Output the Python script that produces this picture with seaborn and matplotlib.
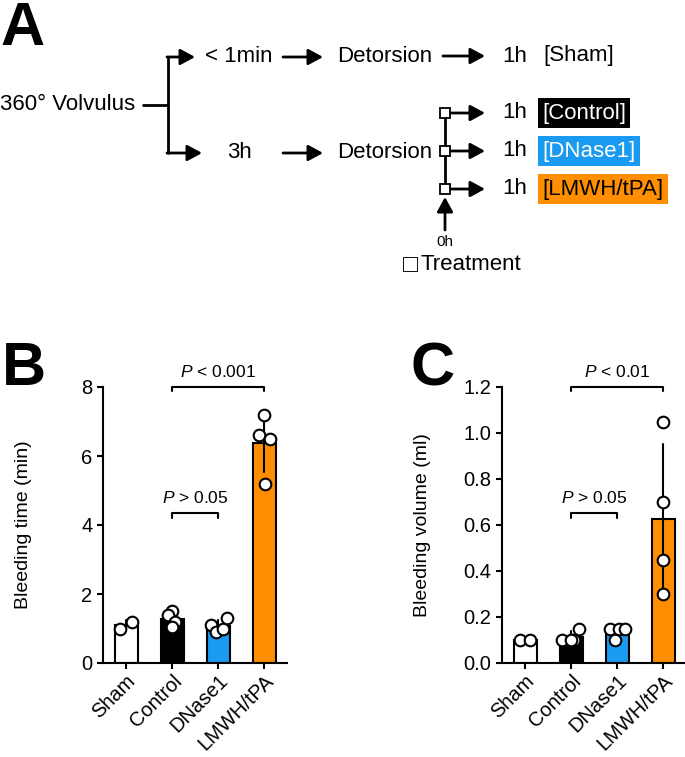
import matplotlib
matplotlib.use("Agg")
import matplotlib.pyplot as plt
import numpy as np
import pandas as pd
import seaborn as sns

groups = ["Sham", "Control", "DNase1", "LMWH/tPA"]
bar_colors = ["white", "black", "#1B9AF2", "#FF8F00"]

time_sham = [1.0, 1.2]
time_control = [1.5, 1.4, 1.2, 1.05]
time_dnase = [1.1, 0.9, 1.0, 1.3]
time_lmwh = [7.2, 6.6, 6.5, 5.2]

vol_sham = [0.1, 0.1]
vol_control = [0.1, 0.1, 0.1, 0.15]
vol_dnase = [0.15, 0.1, 0.15, 0.15]
vol_lmwh = [1.05, 0.7, 0.45, 0.3]

time_ticks = [0, 2, 4, 6, 8]
vol_ticks = [0.0, 0.2, 0.4, 0.6, 0.8, 1.0, 1.2]

# horizontal scatter of the dots within each group (category units)
time_offsets = [[-0.12, 0.12], [0.0, -0.09, 0.07, 0.0],
                [-0.15, -0.04, 0.11, 0.2], [0.0, -0.11, 0.13, 0.02]]
vol_offsets = [[-0.11, 0.11], [-0.2, 0.07, 0.0, 0.17],
               [-0.15, -0.04, 0.05, 0.17], [0.0, 0.0, 0.0, 0.0]]

# (left group, right group, bracket height, label)
time_brackets = [(1, 3, 8.0, "< 0.001"), (1, 2, 4.34, "> 0.05")]
vol_brackets = [(1, 3, 1.2, "< 0.01"), (1, 2, 0.651, "> 0.05")]

sns.set_style("ticks", {"axes.edgecolor": "black", "text.color": "black",
                        "axes.labelcolor": "black", "xtick.color": "black",
                        "ytick.color": "black"})
plt.rcParams["font.family"] = ["Liberation Sans", "DejaVu Sans"]
plt.rcParams["mathtext.fontset"] = "custom"
plt.rcParams["mathtext.it"] = "Liberation Sans:italic"
plt.rcParams["mathtext.rm"] = "Liberation Sans"

W, H = 685, 757
fig = plt.figure(figsize=(W / 100, H / 100), dpi=100)


def long_table(values, offsets):
    rows = []
    for i, (g, vals, offs) in enumerate(zip(groups, values, offsets)):
        rows += [{"group": g, "value": v, "pos": i + o} for v, o in zip(vals, offs)]
    return pd.DataFrame(rows)


def bar_panel(rect, values, offsets, ticks, ylabel, brackets):
    ax = fig.add_axes(rect)
    df = long_table(values, offsets)
    sns.barplot(
        data=df, x="group", y="value", hue="group", order=groups, hue_order=groups,
        palette=bar_colors, saturation=1, legend=False, errorbar="sd", width=0.5,
        edgecolor="black", linewidth=1.5, capsize=0,
        err_kws={"color": "black", "linewidth": 1.5}, ax=ax,
    )
    ax.scatter(df["pos"], df["value"], s=70, facecolor="white", edgecolor="black",
               linewidth=1.5, zorder=3, clip_on=False)
    ax.set_xlim(-0.5, 3.5)
    ax.set_ylim(ticks[0], ticks[-1])
    ax.set_yticks(ticks)
    if isinstance(ticks[1], float):
        ax.set_yticklabels([f"{t:.1f}" for t in ticks])
    ax.set_xlabel("")
    ax.set_ylabel(ylabel, fontsize=14)
    ax.yaxis.set_label_coords(-0.385, 0.5)
    ax.tick_params(axis="both", width=1.5, length=4, color="black")
    ax.tick_params(axis="y", labelsize=14.5)
    ax.tick_params(axis="x", pad=2)
    ax.set_xticks(range(len(groups)))
    ax.set_xticklabels(groups, rotation=45, ha="right", rotation_mode="anchor",
                       fontsize=14.5)
    for s in ["left", "bottom"]:
        ax.spines[s].set_linewidth(1.5)
    sns.despine(ax=ax)

    span = ticks[-1] - ticks[0]
    for x0, x1, y, lab in brackets:
        d = 0.016 * span
        ax.plot([x0, x0, x1, x1], [y - d, y, y, y - d], color="black", lw=1.5, clip_on=False)
        ax.text((x0 + x1) / 2, y + 0.025 * span, r"$\mathit{P}$ " + lab,
                ha="center", va="bottom", fontsize=12.5, clip_on=False)
    return ax


axB = bar_panel([103 / W, 94 / H, 184 / W, 276 / H],
                [time_sham, time_control, time_dnase, time_lmwh], time_offsets,
                time_ticks, "Bleeding time (min)", time_brackets)
axC = bar_panel([502 / W, 94 / H, 184 / W, 276 / H],
                [vol_sham, vol_control, vol_dnase, vol_lmwh], vol_offsets,
                vol_ticks, "Bleeding volume (ml)", vol_brackets)

# panel A flow diagram, pixel coordinates
ov = fig.add_axes([0, 0, 1, 1], zorder=-1)
ov.set_xlim(0, W)
ov.set_ylim(H, 0)
ov.axis("off")

letter_kw = dict(fontsize=44, fontweight="bold", va="baseline",
                 family=["Liberation Sans Narrow", "Liberation Sans"])
ov.text(0, 45, "A", **letter_kw)
ov.text(2, 385, "B", **letter_kw)
ov.text(411, 385, "C", **letter_kw)


def arrow(x0, y0, x1, y1):
    ov.annotate("", xy=(x1, y1), xytext=(x0, y0),
                arrowprops=dict(arrowstyle="-|>,head_length=0.55,head_width=0.3",
                                lw=2, color="black", mutation_scale=16,
                                shrinkA=0, shrinkB=0))


def line(xs, ys):
    ov.plot(xs, ys, color="black", lw=2, solid_capstyle="butt")


fs = 16
ov.text(0, 105, "360° Volvulus", fontsize=fs, va="center")
line([142, 169], [105, 105])
line([168, 168], [56, 154])
arrow(167, 57, 195, 57)
arrow(167, 153, 202, 153)
ov.text(205, 57, "< 1min", fontsize=fs, va="center")
ov.text(227, 153, "3h", fontsize=fs, va="center")
arrow(283, 57, 323, 57)
arrow(283, 153, 323, 153)
ov.text(337, 56, "Detorsion", fontsize=fs, va="center")
ov.text(337, 153, "Detorsion", fontsize=fs, va="center")
arrow(443, 56, 485, 56)
ov.text(502, 56, "1h", fontsize=fs, va="center")
ov.text(543, 55, "[Sham]", fontsize=fs, va="center")

branch_y = [113, 151, 189]
branch_labels = ["[Control]", "[DNase1]", "[LMWH/tPA]"]
branch_text = ["white", "white", "black"]
line([445, 445], [branch_y[0], branch_y[-1]])
for y, lab, col, tc in zip(branch_y, branch_labels, bar_colors[1:], branch_text):
    arrow(449, y, 485, y)
    ov.text(502, y, "1h", fontsize=fs, va="center")
    ov.text(542, y, lab, fontsize=fs, va="center", color=tc,
            bbox=dict(boxstyle="square,pad=0.2", fc=col, ec="none"))
ov.plot([445] * 3, branch_y, ls="none", marker="s", ms=7, mfc="white",
        mec="black", mew=1.3, zorder=5)
arrow(445, 230, 445, 197)
ov.text(445, 242, "0h", fontsize=11, ha="center", va="center")
ov.text(403, 265, "□", fontsize=18, va="center")
ov.text(421, 264, "Treatment", fontsize=fs, va="center")

fig.savefig("out.png", dpi=100)
